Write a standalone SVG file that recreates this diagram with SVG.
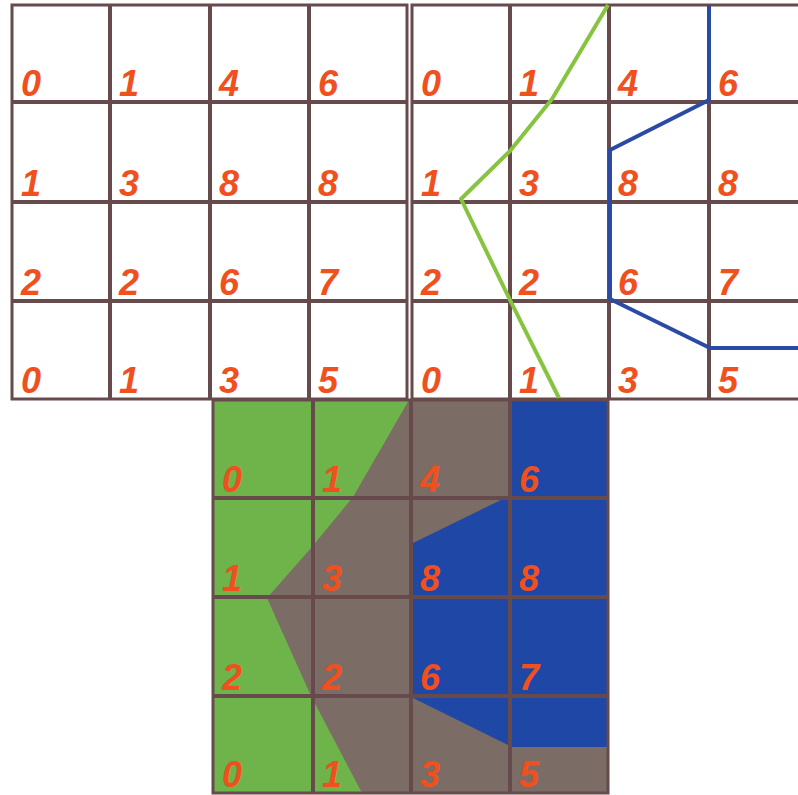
<svg xmlns="http://www.w3.org/2000/svg" width="798" height="795" viewBox="0 0 798 795">
<style>
.g{stroke:#664a4c;stroke-width:4;fill:none}
.o{stroke:#664a4c;stroke-width:3;fill:none}
.t{font-family:"Liberation Sans",Arial,sans-serif;font-weight:bold;font-style:italic;font-size:36px;fill:#f0501e}
</style>
<rect width="798" height="795" fill="#ffffff"/>
<g id="grid-left">
<path class="g" d="M110 5V399M210 5V399M309 5V399M12 102H407M12 202H407M12 301H407"/>
<rect class="o" x="12" y="5" width="395" height="394"/>
<text class="t" x="21" y="96">0</text><text class="t" x="119" y="96">1</text><text class="t" x="219" y="96">4</text><text class="t" x="318" y="96">6</text>
<text class="t" x="21" y="196">1</text><text class="t" x="119" y="196">3</text><text class="t" x="219" y="196">8</text><text class="t" x="318" y="196">8</text>
<text class="t" x="21" y="295">2</text><text class="t" x="119" y="295">2</text><text class="t" x="219" y="295">6</text><text class="t" x="318" y="295">7</text>
<text class="t" x="21" y="393">0</text><text class="t" x="119" y="393">1</text><text class="t" x="219" y="393">3</text><text class="t" x="318" y="393">5</text>
</g>
<g id="grid-right">
<path class="g" d="M510 5V399M609 5V399M709 5V399M412 102H798M412 202H798M412 301H798"/>
<path class="o" d="M798 5H412V399H798"/>
<text class="t" x="421" y="96">0</text><text class="t" x="519" y="96">1</text><text class="t" x="618" y="96">4</text><text class="t" x="718" y="96">6</text>
<text class="t" x="421" y="196">1</text><text class="t" x="519" y="196">3</text><text class="t" x="618" y="196">8</text><text class="t" x="718" y="196">8</text>
<text class="t" x="421" y="295">2</text><text class="t" x="519" y="295">2</text><text class="t" x="618" y="295">6</text><text class="t" x="718" y="295">7</text>
<text class="t" x="421" y="393">0</text><text class="t" x="519" y="393">1</text><text class="t" x="618" y="393">3</text><text class="t" x="718" y="393">5</text>
</g>
<g id="connectors">
<polyline points="608,5 552,99 510,151 461,199 510,300 559,398" fill="none" stroke="#86c440" stroke-width="4" stroke-linejoin="round"/>
<polyline points="709,5 709,100 610,150 610,299 710,348 798,348" fill="none" stroke="#2a4aa6" stroke-width="4" stroke-linejoin="round"/>
</g>
<g id="grid-bottom">
<rect x="213" y="400" width="395" height="393" fill="#7b6c66"/>
<polygon points="213,400 409,400 353,497 311,548 267,598 311,696 362,793 213,793" fill="#6fb44b"/>
<polygon points="510,400 608,400 608,747 512,747 411,697 411,544 505,498 510,498" fill="#1f47a6"/>
<path class="g" d="M313 400V793M411 400V793M510 400V793M213 498H608M213 597H608M213 696H608"/>
<rect class="o" x="213" y="400" width="395" height="393"/>
<text class="t" x="222" y="492">0</text><text class="t" x="322" y="492">1</text><text class="t" x="420" y="492">4</text><text class="t" x="519" y="492">6</text>
<text class="t" x="222" y="591">1</text><text class="t" x="322" y="591">3</text><text class="t" x="420" y="591">8</text><text class="t" x="519" y="591">8</text>
<text class="t" x="222" y="690">2</text><text class="t" x="322" y="690">2</text><text class="t" x="420" y="690">6</text><text class="t" x="519" y="690">7</text>
<text class="t" x="222" y="787">0</text><text class="t" x="322" y="787">1</text><text class="t" x="420" y="787">3</text><text class="t" x="519" y="787">5</text>
</g>
</svg>
